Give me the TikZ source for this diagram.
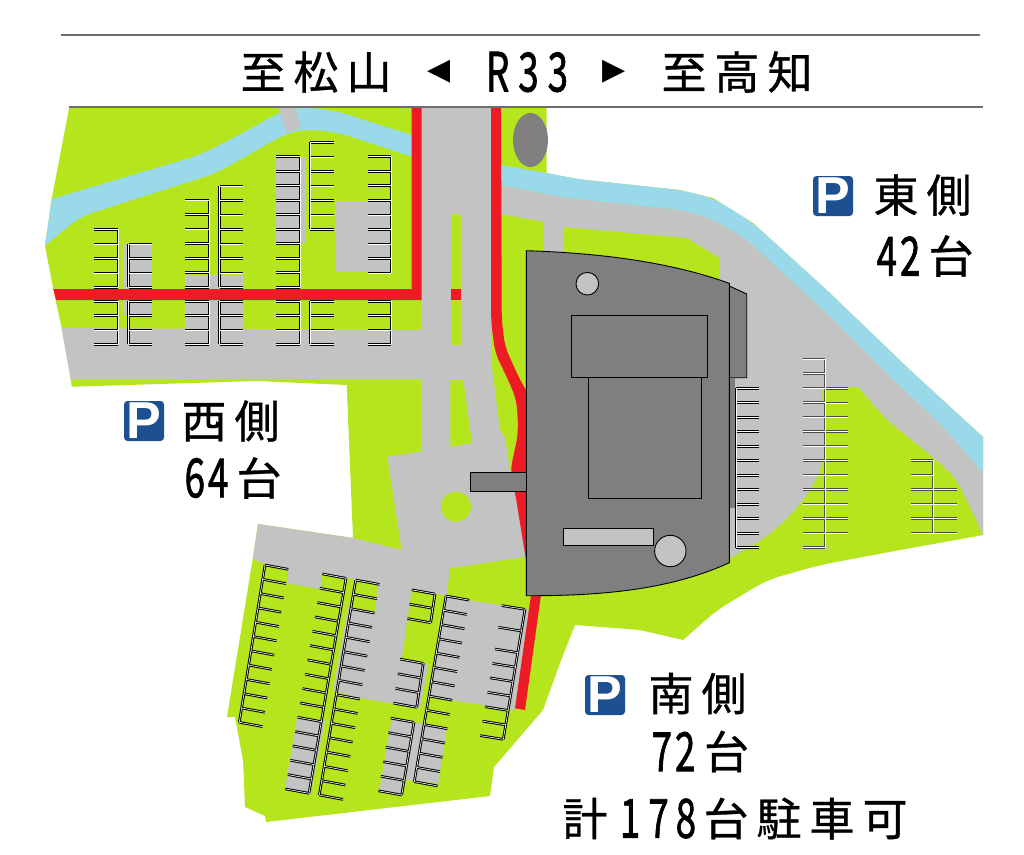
\documentclass[tikz,border=0pt]{standalone}
\usepackage{fontspec}
\setmainfont{Liberation Sans}
\newfontfamily\jp[FakeBold=0.7]{Noto Sans CJK JP}
\newfontfamily\jn[FakeBold=1.6]{Noto Sans CJK JP}
\newfontfamily\sym{DejaVu Sans}
\newfontfamily\pfont[Scale=1]{Liberation Sans}
\definecolor{land}{HTML}{B5E61D}
\definecolor{road}{HTML}{C3C3C3}
\definecolor{river}{HTML}{99D9EA}
\definecolor{route}{HTML}{ED1C24}
\definecolor{bldg}{HTML}{7F7F7F}
\definecolor{pblue}{HTML}{1D4F91}
\definecolor{rule}{HTML}{6E6E6E}
\newcommand{\gp}{\kern8pt}
\newcommand{\nr}[1]{\scalebox{0.68}[1]{#1}}
\newcommand{\tth}[7]{foreach \i in {0,...,#5} {({#1+(#3-#1)*\i/#5},{#2+(#4-#2)*\i/#5}) -- ++(#6,#7)}}
\tikzset{
  stall/.style={draw=black,line width=1pt,double=white,double distance=0.6pt},
  stallg/.style={draw=black!70,line width=1pt,double=white,double distance=0.5pt},
  bld/.style={fill=bldg,draw=black,line width=0.9pt},
  lab/.style={inner sep=0pt,font=\jp\fontsize{45}{45}\selectfont,text=black},
  num/.style={inner sep=0pt,font=\jn\fontsize{54}{54}\selectfont,text=black},
  picon/.style={fill=pblue,rounded corners=3.5pt,minimum size=40pt,inner sep=0pt,text=white,font=\pfont\bfseries\fontsize{52}{52}\selectfont},
  rulel/.style={draw=rule,line width=1.2pt}
}
\begin{document}
\begin{tikzpicture}[x=1pt,y=-1pt]
\path[use as bounding box,fill=white] (0,0) rectangle (1024,854);
% land
\fill[land] (69.3,107) -- (546.7,107) -- (546.7,173) -- (576.7,179) -- (680,190) -- (713,198) -- (753,223) -- (826.7,290) -- (910,370) -- (983,437) -- (983,535) [rounded corners=14pt] -- (900,550) -- (820,565) -- (767,580) -- (717,610) [sharp corners] -- (683,640) -- (640,630) -- (575,625) -- (560,663) -- (543,710) -- (494,767) -- (490,796) -- (266,822) -- (265,816) -- (245,807) -- (243,760) -- (235,717) -- (227,717) -- (252.7,559) -- (258,524) -- (353,538) -- (346.7,385) -- (256.7,381) -- (71.7,386.7) -- (70.7,379) -- (61.7,328) -- (53.3,289) -- (45,245.7) -- (51.7,199) -- cycle;
% west river and bridge
\fill[river] (51.7,199) [rounded corners=14pt] -- (200,155) -- (243,133) -- (278,113) -- (295,107) -- (333,110) [sharp corners] -- (411.7,135) -- (411.7,156.7) [rounded corners=14pt] -- (340,133) -- (306.7,129) -- (286.7,133) -- (216.7,173) -- (80,216.7) [sharp corners] -- (45,245.7) -- cycle;
\fill[road] (278,107) -- (295,107) -- (300.7,128) -- (286.7,133) -- cycle;
% east river
\fill[river] (500,165) [rounded corners=14pt] -- (546.7,173) -- (576.7,179) -- (680,190) -- (713,198) -- (753,223) -- (826.7,290) -- (910,370) [sharp corners] -- (983,437) -- (983,473) [rounded corners=14pt] -- (943,427) -- (883,370) -- (820,307) -- (743,236.7) -- (706.7,216.7) -- (680,210) -- (566.7,198.3) [sharp corners] -- (500,185) -- cycle;
% east road
\fill[road] (500,185) [rounded corners=14pt] -- (566.7,198.3) -- (680,210) -- (706.7,216.7) -- (743,236.7) -- (820,307) -- (883,370) -- (943,427) [sharp corners] -- (983,473) -- (983,535) [rounded corners=12pt] -- (973,513) -- (955,477) -- (933,457) -- (887,420) [sharp corners] -- (858,387) -- (822,388) [rounded corners=16pt] -- (825,457) -- (813,487) -- (793,513) -- (763,540) [sharp corners] -- (730,558) -- (729,286) -- (720,280) -- (720,258) -- (686.7,238) -- (563.3,227) -- (562.7,252) -- (543,252) -- (543,221.7) -- (500,214) -- cycle;
% west road and patches
\fill[road] (61.7,328) -- (425,330) -- (425,379.3) -- (70.7,379.3) -- cycle;
\fill[road] (122.7,244) rectangle (152,315);
\fill[road] (185,275) rectangle (243,330);
\fill[road] (276,157) rectangle (305.7,242.7);
\fill[road] (335,201) rectangle (391,272.3);
% central and south road
\fill[road] (421,107) -- (491,107) -- (491,360) -- (500,430) -- (505,437) -- (510,470) -- (526,470) -- (526,556.7) -- (450,568.3) -- (446.7,596) -- (435,593.3) -- (411.7,589.3) -- (401.7,660) -- (428.3,665) -- (420,708) -- (360,698) -- (333,690.7) -- (348,607) -- (375,611.7) -- (378.3,583.3) -- (321.7,573.3) -- (320.7,589.3) -- (286.7,583.3) -- (288.3,568.3) -- (265,564) -- (252.7,559) -- (258,524) -- (353,538) -- (401.7,550) -- (387.3,456.7) -- (421,451.7) -- cycle;
\fill[road] (446.7,596) -- (468.3,600) -- (530,610) -- (515,710) -- (428,696.7) -- cycle;
\fill[road] (297.3,716.7) -- (325,721) -- (310.7,794) -- (285,788.3) -- cycle;
\fill[road] (391.7,719) -- (446.7,727.3) -- (438.3,783.3) -- (406,780) -- (401.7,795) -- (379.3,790.7) -- cycle;
% medians
\fill[land] (451,214) [rounded corners=3pt] -- (451,214) -- (461,214) [sharp corners] -- (461,345) -- (451,345) -- cycle;
\fill[land] (450.3,380) -- (463.3,380) -- (472,443.3) -- (450.3,446.7) -- cycle;
\fill[land] (456,506.7) circle (15);
\fill[route] (451,289) rectangle (461,300);
% red routes
\fill[route] (53.3,289) -- (411.7,289) -- (411.7,107) -- (421.7,107) -- (421.7,300) -- (56,300) -- cycle;
\fill[route] (491,107) [rounded corners=10pt] -- (491,320) -- (495,353) -- (506.7,376.7) -- (516.7,400) -- (518.3,433) -- (510,472) -- (515,492) [sharp corners] -- (526,560) -- (530,560) -- (530,397) [rounded corners=10pt] -- (520,380) -- (505,347) -- (501.7,320) [sharp corners] -- (501,107) -- cycle;
\fill[route] (531.7,590) -- (541.7,590) -- (525,710) -- (515,708.3) -- cycle;
% oval
\fill[bldg] (530.5,140) ellipse (17.5 and 27);
% building
\draw[bld] (729.3,286) -- (746.7,294) -- (746.7,377.7) -- (729.3,377.7) -- cycle;
\fill[bldg] (730,377.7) rectangle (735,508);
\draw[bld] (526.3,250.7) .. controls (600,253) and (670,262) .. (729.3,283.3) -- (729.3,562.7) .. controls (670,590) and (600,596) .. (526.3,595.7) -- cycle;
\draw[bld] (571.3,315.7) rectangle (707.3,377.7);
\draw[bld] (588.3,377.7) rectangle (701,498.3);
\draw[bld,fill=road] (587.3,283.7) circle (11.3);
\draw[bld,fill=road] (670.3,551) circle (15.7);
\draw[bld,fill=road] (563.3,528.3) rectangle (653.3,545);
\draw[bld] (470,472.3) rectangle (526.3,491.3);
% west stalls
\draw[stall] (118,229.3) -- (118,287.3) \tth{118}{229.3}{118}{287.3}{4}{-24}{0};
\draw[stall] (118,301.3) -- (118,344.3) \tth{118}{301.3}{118}{344.3}{3}{-24}{0};
\draw[stall] (128.5,244) -- (128.5,287.3) \tth{128.5}{244}{128.5}{287.3}{3}{23.5}{0};
\draw[stall] (128.5,301.3) -- (128.5,344.3) \tth{128.5}{301.3}{128.5}{344.3}{3}{23.5}{0};
\draw[stall] (209,200) -- (209,287.3) \tth{209}{200}{209}{287.3}{6}{-24}{0};
\draw[stall] (209,301.3) -- (209,344.3) \tth{209}{301.3}{209}{344.3}{3}{-24}{0};
\draw[stall] (219.5,186) -- (219.5,287.3) \tth{219.5}{186}{219.5}{287.3}{7}{23.5}{0};
\draw[stall] (219.5,301.3) -- (219.5,344.3) \tth{219.5}{301.3}{219.5}{344.3}{3}{23.5}{0};
\draw[stall] (300,156.7) -- (300,287.3) \tth{300}{156.7}{300}{287.3}{9}{-24}{0};
\draw[stall] (300,301.3) -- (300,344.3) \tth{300}{301.3}{300}{344.3}{3}{-24}{0};
\draw[stall] (310,142.3) -- (310,229.3) \tth{310}{142.3}{310}{229.3}{6}{24}{0};
\draw[stall] (310,301.3) -- (310,344.3) \tth{310}{301.3}{310}{344.3}{3}{24}{0};
\draw[stall] (391,156.7) -- (391,273) \tth{391}{156.7}{391}{273}{8}{-23.5}{0};
\draw[stall] (391,301.3) -- (391,344.3) \tth{391}{301.3}{391}{344.3}{3}{-23.5}{0};
% east stalls
\draw[stall] (736,388.3) -- (736,547.7) \tth{736}{388.3}{736}{547.7}{11}{23}{0};
\draw[stallg] (825,359) -- (825,547.7) \tth{825}{359}{825}{547.7}{13}{-22.5}{0} \tth{825}{388.3}{825}{533}{10}{23}{0};
\draw[stallg] (933,460.7) -- (933,533) \tth{933}{460.7}{933}{533}{5}{-22.5}{0} \tth{933}{489.7}{933}{533}{3}{23.5}{0};
% south stalls
\draw[stall] (265,565) -- (239.3,722.3) \tth{265}{565}{239.3}{722.3}{11}{23.3}{4.3};
\draw[stall] (346,578.3) -- (309,793.3) \tth{346}{578.3}{309}{793.3}{15}{-23.7}{-4.4};
\draw[stall] (355.7,580) -- (319.3,795) \tth{355.7}{580}{319.3}{795}{15}{23.7}{4.4};
\draw[stall] (435,594) -- (430.7,622.7) \tth{435}{594}{430.7}{622.7}{2}{-23.3}{-4.2};
\draw[stall] (423.3,663.3) -- (416.7,707.3) \tth{423.3}{663.3}{416.7}{707.3}{3}{-23.3}{-4.2};
\draw[stall] (414,722.3) -- (401.7,795) \tth{414}{722.3}{401.7}{795}{5}{-23.3}{-4.2};
\draw[stall] (446,596) -- (414.3,781.7) \tth{446}{596}{414.3}{781.7}{13}{23.3}{4.2};
\draw[stall] (525,609.3) -- (503.3,739.3) \tth{525}{609.3}{518.3}{652.7}{2}{-23.3}{-3.7} \tth{518.3}{652.7}{503.3}{739.3}{6}{-23.3}{-3.7};
% title rules
\draw[rulel] (61,35) -- (980,35);
\draw[rulel] (69,107) -- (983,107);
% title
\node[lab] (t1) at (316,72) {至\gp 松\gp 山};
\node[inner sep=0pt,font=\sym\fontsize{30}{30}\selectfont] (t2) at (439,72) {◀};
\node[num] (t3) at (527,72) {\nr{R}\kern9pt\nr{3}\kern9pt\nr{3}};
\node[inner sep=0pt,font=\sym\fontsize{30}{30}\selectfont] (t4) at (614,72) {▶};
\node[lab] (t5) at (737,72) {至\gp 高\gp 知};
% east label
\node[picon] (pe) at (833,196) {P};
\node[lab] (e1) at (922.5,195) {東\gp 側};
\node[num] (e2) at (898.5,256) {\nr{4}\kern3pt\nr{2}};
\node[lab] (e3) at (951,256) {台};
% west label
\node[picon] (pw) at (144,421) {P};
\node[lab] (w1) at (230.5,421) {西\gp 側};
\node[num] (w2) at (206.5,478) {\nr{6}\kern3pt\nr{4}};
\node[lab] (w3) at (259,478) {台};
% south label
\node[picon] (ps) at (605,695) {P};
\node[lab] (s1) at (697.5,693.5) {南\gp 側};
\node[num] (s2) at (673.5,751.5) {\nr{7}\kern3pt\nr{2}};
\node[lab] (s3) at (726.5,751.5) {台};
% total
\node[lab] (g1) at (585,818.5) {計};
\node[num] (g2) at (658,818.5) {\nr{1}\kern8pt\nr{7}\kern7pt\nr{8}};
\node[lab] (g3) at (726,818.5) {台};
\node[lab] (g4) at (832,818.5) {駐\gp 車\gp 可};
\end{tikzpicture}
\end{document}
